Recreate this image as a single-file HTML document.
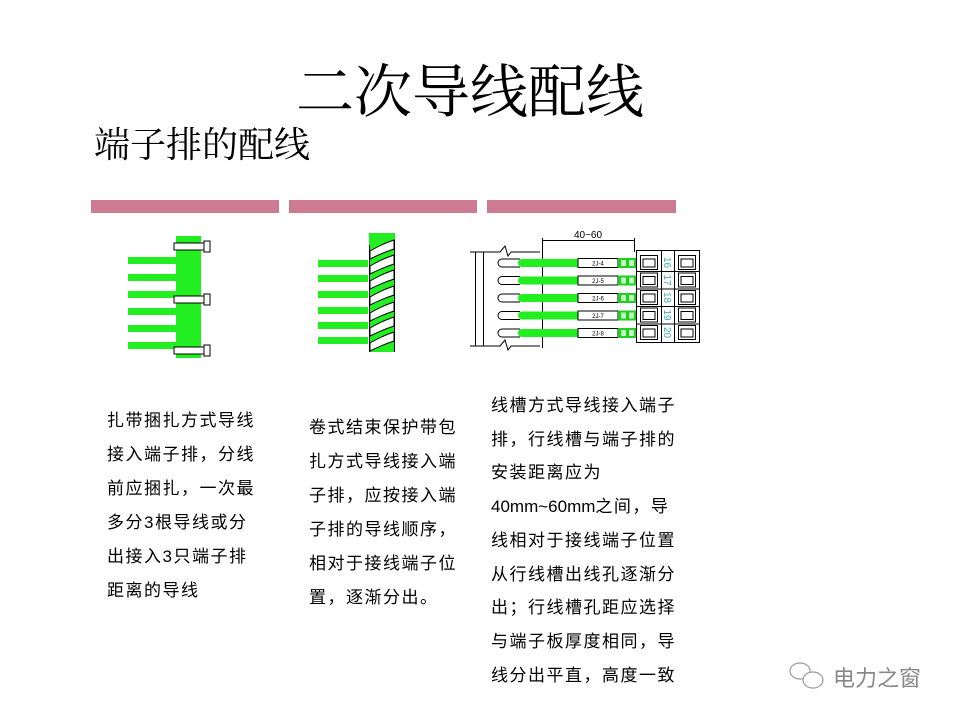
<!DOCTYPE html>
<html><head><meta charset="utf-8"><style>
html,body{margin:0;padding:0;background:#fff;width:960px;height:720px;overflow:hidden}
.t{position:absolute;font-family:"Liberation Sans","Noto Sans CJK SC",sans-serif;font-size:17px;color:#000;line-height:34px;letter-spacing:1.5px;white-space:nowrap}
</style></head><body>
<div style="position:absolute;left:296px;top:58px;font-family:'Liberation Serif','Noto Serif CJK SC',serif;font-size:58px;line-height:70px;color:#000">二次导线配线</div>
<div style="position:absolute;left:94px;top:123px;font-family:'Liberation Serif','Noto Serif CJK SC',serif;font-size:36px;line-height:44px;color:#000">端子排的配线</div>
<svg width="960" height="720" style="position:absolute;left:0;top:0">
<rect x="91" y="200" width="188" height="13" fill="#cc7b93"/>
<rect x="289" y="200" width="188" height="13" fill="#cc7b93"/>
<rect x="487" y="200" width="189" height="13" fill="#cc7b93"/>
<!-- diagram 1 -->
<g fill="#22ee22">
<rect x="176" y="236" width="25" height="122"/>
<rect x="128" y="257" width="50" height="7"/><rect x="128" y="274" width="50" height="7"/>
<rect x="128" y="291" width="50" height="7"/><rect x="128" y="308" width="50" height="7"/>
<rect x="128" y="325" width="50" height="7"/><rect x="128" y="342" width="50" height="7"/>
</g>
<g fill="#fff" stroke="#000" stroke-width="1">
<rect x="174" y="243" width="30" height="7"/><rect x="204" y="241" width="6" height="11"/>
<rect x="174" y="296" width="30" height="7"/><rect x="204" y="294" width="6" height="11"/>
<rect x="174" y="347" width="30" height="7"/><rect x="204" y="345" width="6" height="11"/>
</g>
<!-- diagram 2 -->
<g fill="#22ee22">
<rect x="369" y="233" width="26" height="119"/>
<rect x="318" y="260" width="50" height="7"/><rect x="318" y="275" width="50" height="7"/>
<rect x="318" y="291" width="50" height="7"/><rect x="318" y="307" width="50" height="7"/>
<rect x="318" y="322" width="50" height="7"/><rect x="318" y="337" width="50" height="7"/>
</g>
<g fill="#fff" stroke="#000" stroke-width="1">
<path d="M370 251 Q382 244 394 240 L394 249 Q382 253 370 259 Z"/>
<path d="M370 266 Q382 259 394 255 L394 264 Q382 268 370 274 Z"/>
<path d="M370 281 Q382 274 394 270 L394 279 Q382 283 370 289 Z"/>
<path d="M370 297 Q382 290 394 286 L394 295 Q382 299 370 305 Z"/>
<path d="M370 313 Q382 306 394 302 L394 311 Q382 315 370 321 Z"/>
<path d="M370 328 Q382 321 394 317 L394 326 Q382 330 370 336 Z"/>
<path d="M370 343 Q382 336 394 332 L394 341 Q382 345 370 351 Z"/>
</g>
<line x1="369.5" y1="245" x2="369.5" y2="352" stroke="#000"/>
<line x1="394.5" y1="240" x2="394.5" y2="352" stroke="#000"/>
<!-- diagram 3 -->
<g stroke="#000" stroke-width="1" fill="none">
<path d="M470 252 H500 L505 246 L508 256 L511 252 H540"/>
<path d="M470 346 H500 L505 340 L508 350 L511 346 H540"/>
<line x1="475.5" y1="252" x2="475.5" y2="346"/>
<line x1="483.5" y1="252" x2="483.5" y2="346"/>
<line x1="542.5" y1="238" x2="542.5" y2="348"/>
<line x1="634.5" y1="238" x2="634.5" y2="252"/>
<line x1="542" y1="240.5" x2="634" y2="240.5"/>
</g>
<text x="588" y="238" font-family="Liberation Sans,sans-serif" font-size="10" text-anchor="middle">40~60</text>
<g id="r">
</g>
<g font-family="Liberation Sans,sans-serif" font-size="6">
<g transform="translate(0,0)">
<path d="M520 259 H502 A4 4 0 0 0 502 267 H520" fill="none" stroke="#000"/>
<rect x="518" y="259" width="60" height="8" rx="4" fill="#22ee22"/><rect x="525" y="259" width="55" height="8" fill="#22ee22"/>
<rect x="578" y="258.5" width="40" height="9" fill="#fff" stroke="#000"/><text x="598" y="265.5" text-anchor="middle">2J-4</text>
<rect x="618" y="258" width="19" height="10" fill="#22cc22"/><rect x="621" y="260" width="5" height="6" fill="#bfb"/><rect x="629" y="260" width="5" height="6" fill="#bfb"/>
</g>
<g transform="translate(0,17.5)">
<path d="M520 259 H502 A4 4 0 0 0 502 267 H520" fill="none" stroke="#000"/>
<rect x="518" y="259" width="60" height="8" rx="4" fill="#22ee22"/><rect x="525" y="259" width="55" height="8" fill="#22ee22"/>
<rect x="578" y="258.5" width="40" height="9" fill="#fff" stroke="#000"/><text x="598" y="265.5" text-anchor="middle">2J-5</text>
<rect x="618" y="258" width="19" height="10" fill="#22cc22"/><rect x="621" y="260" width="5" height="6" fill="#bfb"/><rect x="629" y="260" width="5" height="6" fill="#bfb"/>
</g>
<g transform="translate(0,35)">
<path d="M520 259 H502 A4 4 0 0 0 502 267 H520" fill="none" stroke="#000"/>
<rect x="518" y="259" width="60" height="8" rx="4" fill="#22ee22"/><rect x="525" y="259" width="55" height="8" fill="#22ee22"/>
<rect x="578" y="258.5" width="40" height="9" fill="#fff" stroke="#000"/><text x="598" y="265.5" text-anchor="middle">2J-6</text>
<rect x="618" y="258" width="19" height="10" fill="#22cc22"/><rect x="621" y="260" width="5" height="6" fill="#bfb"/><rect x="629" y="260" width="5" height="6" fill="#bfb"/>
</g>
<g transform="translate(0,52.5)">
<path d="M520 259 H502 A4 4 0 0 0 502 267 H520" fill="none" stroke="#000"/>
<rect x="518" y="259" width="60" height="8" rx="4" fill="#22ee22"/><rect x="525" y="259" width="55" height="8" fill="#22ee22"/>
<rect x="578" y="258.5" width="40" height="9" fill="#fff" stroke="#000"/><text x="598" y="265.5" text-anchor="middle">2J-7</text>
<rect x="618" y="258" width="19" height="10" fill="#22cc22"/><rect x="621" y="260" width="5" height="6" fill="#bfb"/><rect x="629" y="260" width="5" height="6" fill="#bfb"/>
</g>
<g transform="translate(0,70)">
<path d="M520 259 H502 A4 4 0 0 0 502 267 H520" fill="none" stroke="#000"/>
<rect x="518" y="259" width="60" height="8" rx="4" fill="#22ee22"/><rect x="525" y="259" width="55" height="8" fill="#22ee22"/>
<rect x="578" y="258.5" width="40" height="9" fill="#fff" stroke="#000"/><text x="598" y="265.5" text-anchor="middle">2J-8</text>
<rect x="618" y="258" width="19" height="10" fill="#22cc22"/><rect x="621" y="260" width="5" height="6" fill="#bfb"/><rect x="629" y="260" width="5" height="6" fill="#bfb"/>
</g>
</g>
<!-- terminal block -->
<g stroke="#000" fill="#fff" stroke-width="1">
<rect x="636.5" y="250.5" width="63" height="92"/>
<line x1="661.5" y1="251" x2="661.5" y2="342"/><line x1="674.5" y1="251" x2="674.5" y2="342"/>
<g fill="none">
<rect x="640.5" y="255.5" width="17" height="14"/><rect x="678.5" y="255.5" width="17" height="14"/>
<rect x="640.5" y="273" width="17" height="14"/><rect x="678.5" y="273" width="17" height="14"/>
<rect x="640.5" y="290.5" width="17" height="14"/><rect x="678.5" y="290.5" width="17" height="14"/>
<rect x="640.5" y="308" width="17" height="14"/><rect x="678.5" y="308" width="17" height="14"/>
<rect x="640.5" y="325.5" width="17" height="14"/><rect x="678.5" y="325.5" width="17" height="14"/>
<path d="M636 271.5 H700 M636 289 H700 M636 306.5 H700 M636 324 H700" />
<path d="M643 259 h12 v8 h-12z M681 259 h12 v8 h-12z M643 276.5 h12 v8 h-12z M681 276.5 h12 v8 h-12z M643 294 h12 v8 h-12z M681 294 h12 v8 h-12z M643 311.5 h12 v8 h-12z M681 311.5 h12 v8 h-12z M643 329 h12 v8 h-12z M681 329 h12 v8 h-12z"/>
</g>
</g>
<g fill="#4ab" font-family="Liberation Sans,sans-serif" font-size="10">
<text transform="translate(664,257) rotate(90)">16</text>
<text transform="translate(664,274.5) rotate(90)">17</text>
<text transform="translate(664,292) rotate(90)">18</text>
<text transform="translate(664,309.5) rotate(90)">19</text>
<text transform="translate(664,327) rotate(90)">20</text>
</g>
<!-- wechat icon -->
<g fill="none" stroke="#999" stroke-width="1.2">
<ellipse cx="800" cy="671" rx="10" ry="8"/>
<ellipse cx="813" cy="680" rx="10" ry="8" fill="#fff"/>
</g>
</svg>
<div class="t" style="left:107px;top:404px">扎带捆扎方式导线<br>接入端子排，分线<br>前应捆扎，一次最<br>多分3根导线或分<br>出接入3只端子排<br>距离的导线</div>
<div class="t" style="left:309px;top:411px">卷式结束保护带包<br>扎方式导线接入端<br>子排，应按接入端<br>子排的导线顺序，<br>相对于接线端子位<br>置，逐渐分出。</div>
<div class="t" style="left:491px;top:389px;line-height:33.7px">线槽方式导线接入端子<br>排，行线槽与端子排的<br>安装距离应为<br><span style="letter-spacing:0">40mm~60mm</span>之间，导<br>线相对于接线端子位置<br>从行线槽出线孔逐渐分<br>出；行线槽孔距应选择<br>与端子板厚度相同，导<br>线分出平直，高度一致</div>
<div style="position:absolute;left:833px;top:665px;font-family:'Liberation Sans','Noto Sans CJK SC',sans-serif;font-size:22px;color:#888;line-height:28px">电力之窗</div>
</body></html>
